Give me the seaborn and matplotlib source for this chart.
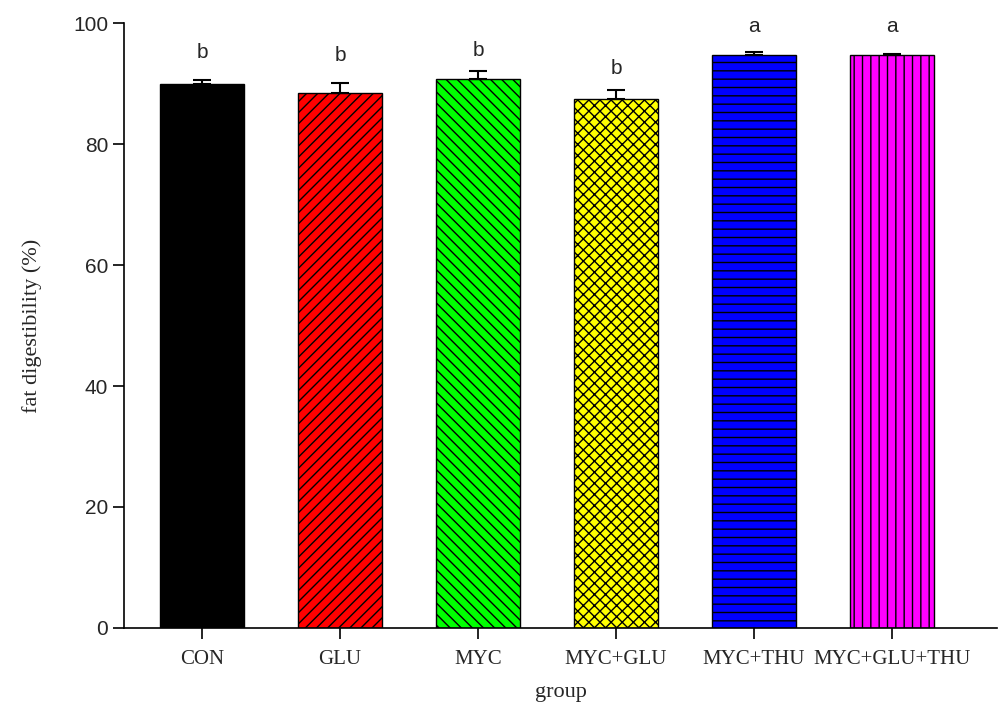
import matplotlib
matplotlib.use("Agg")
import matplotlib.pyplot as plt
import seaborn as sns
import pandas as pd
import numpy as np

groups = ["CON", "GLU", "MYC", "MYC+GLU", "MYC+THU", "MYC+GLU+THU"]
means = [90.0, 88.4, 90.8, 87.5, 94.7, 94.8]
sems = [0.6, 1.8, 1.3, 1.5, 0.5, 0.2]
letters = ["b", "b", "b", "b", "a", "a"]
letter_y = [94.3, 93.8, 94.6, 91.6, 98.5, 98.5]
colors = ["#000000", "#ff0000", "#00ff00", "#ffff00", "#0000ff", "#ff00ff"]
hatches = ["", "///", "\\\\\\", "xxx", "--", "||"]

sns.set_style("ticks")
plt.rcParams["hatch.linewidth"] = 1.0

df = pd.DataFrame({"group": groups, "value": means})

fig = plt.figure(figsize=(10.08, 7.07), dpi=100)
ax = fig.add_axes([0.123, 0.112, 0.866, 0.855])

sns.barplot(data=df, x="group", y="value", hue="group", palette=colors,
            order=groups, hue_order=groups, width=0.61, legend=False,
            edgecolor="black", linewidth=1.0, ax=ax, errorbar=None, saturation=1)

for patch, h in zip(ax.patches, hatches):
    patch.set_hatch(h)
    patch.set_edgecolor("black")

x = np.arange(len(groups))
ax.errorbar(x, means, yerr=[np.zeros(len(sems)), sems], fmt="none",
            ecolor="black", elinewidth=1.5, capsize=6.5, capthick=1.5, zorder=5)

for xi, ly, l in zip(x, letter_y, letters):
    ax.text(xi, ly, l, ha="center", va="baseline",
            fontsize=15, family="Liberation Sans")

ax.set_ylim(0, 100)
ax.set_xlim(-0.565, 5.76)
ax.set_yticks([0, 20, 40, 60, 80, 100])
for lab in ax.get_yticklabels():
    lab.set_fontfamily("Liberation Sans")
    lab.set_fontsize(15)
for lab in ax.get_xticklabels():
    lab.set_fontfamily("Liberation Serif")
    lab.set_fontsize(15)

ax.tick_params(axis="both", direction="out", length=8, width=1.2, color="black")
ax.tick_params(axis="x", pad=8)
ax.set_xlabel("group", fontsize=16, family="Liberation Serif", labelpad=10)
ax.set_ylabel("fat digestibility (%)", fontsize=16, family="Liberation Serif", labelpad=22)

sns.despine(ax=ax)
for sp in ["left", "bottom"]:
    ax.spines[sp].set_linewidth(1.2)
    ax.spines[sp].set_color("black")

fig.savefig("out.png", dpi=100, facecolor="white")
